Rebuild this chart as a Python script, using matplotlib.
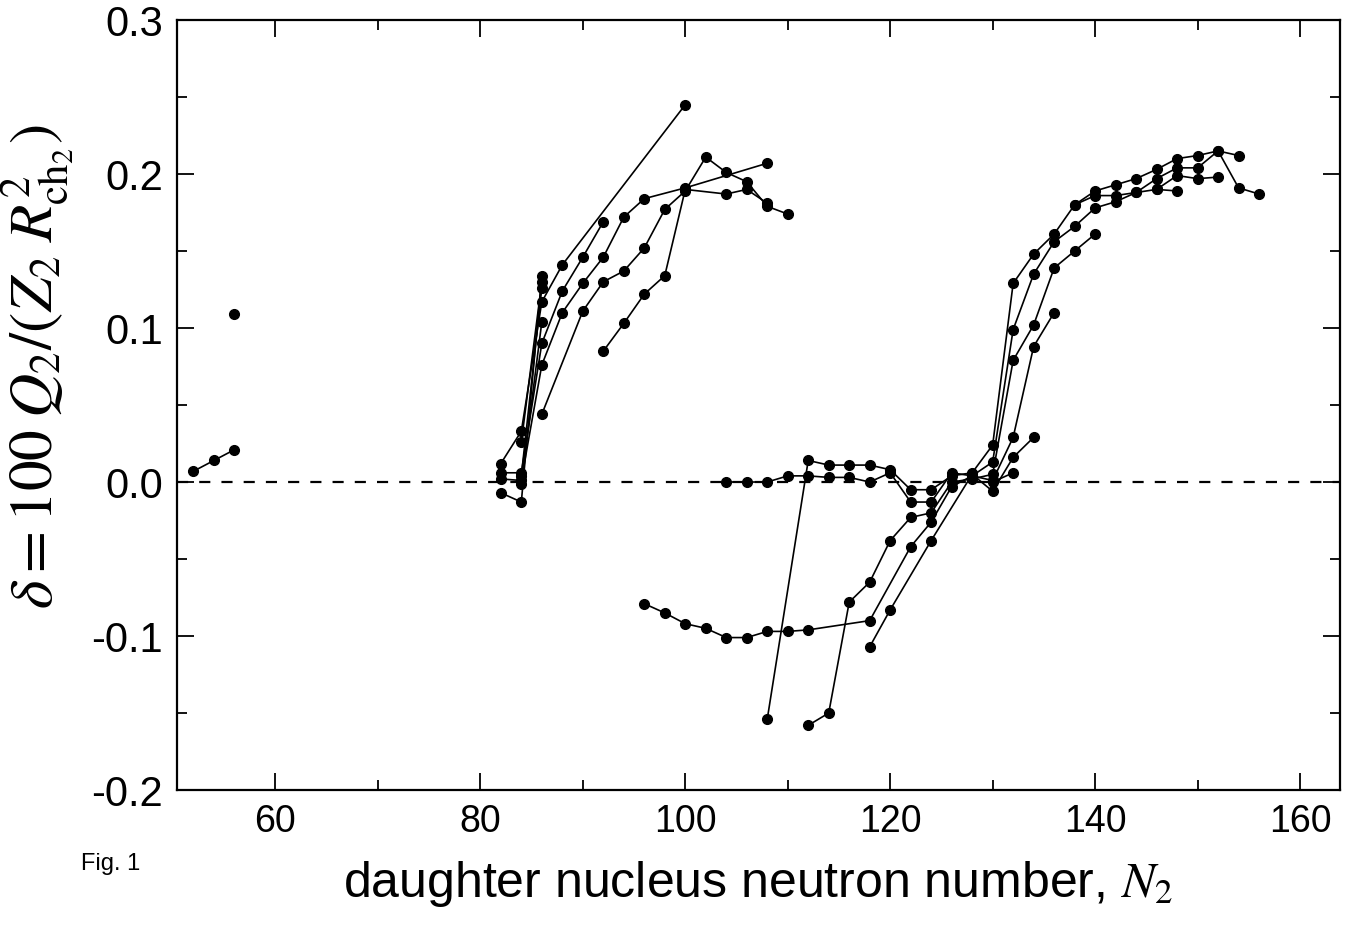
import matplotlib
matplotlib.use("Agg")
import matplotlib.pyplot as plt
from matplotlib.ticker import MultipleLocator

plt.rcParams['font.family'] = ['Liberation Sans', 'DejaVu Sans']
plt.rcParams['mathtext.fontset'] = 'stix'

# ---- data (N2, delta) per chain ----
L1_N = [52, 54, 56]
L1_d = [0.007, 0.014, 0.021]
L2_N = [56]
L2_d = [0.109]

S1_N = [82, 84, 86, 88, 100]
S1_d = [0.012, 0.033, 0.117, 0.141, 0.245]
S2_N = [82, 84, 86, 88, 90, 92]
S2_d = [0.006, 0.006, 0.090, 0.124, 0.146, 0.169]
S3_N = [82, 84, 86, 88, 90, 92, 94, 96, 100, 108]
S3_d = [0.002, 0.001, 0.076, 0.110, 0.129, 0.146, 0.172, 0.184, 0.191, 0.207]
S4_N = [86, 90, 92, 94, 96, 98, 100, 102, 104, 106, 108, 110]
S4_d = [0.044, 0.111, 0.130, 0.137, 0.152, 0.177, 0.189, 0.211, 0.201, 0.195, 0.179, 0.174]
S5_N = [92, 94, 96, 98, 100, 104, 106, 108]
S5_d = [0.085, 0.103, 0.122, 0.134, 0.190, 0.187, 0.190, 0.181]
S6_N = [82, 84, 86]
S6_d = [-0.007, -0.013, 0.134]
S7_N = [84, 86]
S7_d = [0.026, 0.130]
S8_N = [84, 86]
S8_d = [0.004, 0.126]
S9_N = [84, 86]
S9_d = [-0.001, 0.104]

A_N = [108, 112, 114, 116, 118, 120, 122, 124, 126, 128, 130, 132, 134, 136, 138,
       140, 142, 144, 146, 148, 150, 152, 154]
A_d = [-0.154, 0.014, 0.011, 0.011, 0.011, 0.008, -0.005, -0.005, 0.004, 0.006, 0.024,
       0.129, 0.148, 0.161, 0.180, 0.189, 0.193, 0.197, 0.203, 0.210, 0.212, 0.215, 0.212]
B_N = [104, 106, 108, 110, 112, 114, 116, 118, 120, 122, 124, 126, 128, 130, 132, 134,
       136, 138, 140, 142, 144, 146, 148]
B_d = [0.000, 0.000, 0.000, 0.004, 0.004, 0.003, 0.003, 0.000, 0.006, -0.013, -0.013,
       0.006, 0.004, 0.013, 0.099, 0.135, 0.156, 0.166, 0.178, 0.182, 0.188, 0.190, 0.189]
C_N = [112, 114, 116, 118, 120, 122, 124, 126, 128, 130, 132, 134, 136, 138, 140]
C_d = [-0.158, -0.150, -0.078, -0.065, -0.038, -0.023, -0.020, 0.000, 0.002, 0.005,
       0.079, 0.102, 0.139, 0.150, 0.161]
D_N = [96, 98, 100, 102, 104, 106, 108, 110, 112, 118, 122, 124, 126, 128, 130, 132,
       134, 136]
D_d = [-0.079, -0.085, -0.092, -0.095, -0.101, -0.101, -0.097, -0.097, -0.096, -0.090,
       -0.042, -0.026, -0.003, 0.004, 0.001, 0.029, 0.088, 0.110]
E_N = [118, 120, 124, 128, 130, 132, 134]
E_d = [-0.107, -0.083, -0.038, 0.005, -0.006, 0.016, 0.029]
F_N = [130, 132]
F_d = [0.000, 0.006]
G_N = [138, 140, 142, 144, 146, 148, 150, 152, 154, 156]
G_d = [0.180, 0.186, 0.186, 0.188, 0.197, 0.204, 0.204, 0.215, 0.191, 0.187]
H_N = [146, 148, 150, 152]
H_d = [0.190, 0.199, 0.197, 0.198]

chains = [(L1_N, L1_d), (L2_N, L2_d), (S1_N, S1_d), (S2_N, S2_d), (S3_N, S3_d),
          (S4_N, S4_d), (S5_N, S5_d), (S6_N, S6_d), (S7_N, S7_d), (S8_N, S8_d),
          (S9_N, S9_d), (A_N, A_d), (B_N, B_d), (C_N, C_d), (D_N, D_d), (E_N, E_d),
          (F_N, F_d), (G_N, G_d), (H_N, H_d)]

xticks = [60, 80, 100, 120, 140, 160]
yticks = [-0.2, -0.1, 0.0, 0.1, 0.2, 0.3]

fig = plt.figure(figsize=(13.65, 9.44), dpi=100)
ax = fig.add_axes([0.1297, 0.1631, 0.852, 0.8157])

ax.axhline(0.0, color='black', lw=1.6, ls=(0, (5, 5)), zorder=1)
for n, d in chains:
    ax.plot(n, d, '-o', color='black', lw=1.2, ms=7, zorder=3)

ax.set_xlim(50.4, 163.9)
ax.set_ylim(-0.2, 0.3)
ax.set_xticks(xticks)
ax.set_xticklabels([str(t) for t in xticks])
ax.set_yticks(yticks)
ax.set_yticklabels(['%.1f' % t for t in yticks])
ax.xaxis.set_minor_locator(MultipleLocator(10))
ax.yaxis.set_minor_locator(MultipleLocator(0.05))
ax.tick_params(which='both', direction='in', top=True, right=True, width=1.3)
ax.tick_params(which='major', length=12, pad=10)
ax.tick_params(axis='x', which='major', labelsize=27)
ax.tick_params(axis='y', which='major', labelsize=30)
ax.tick_params(which='minor', length=7)
for s in ax.spines.values():
    s.set_linewidth(1.6)

ax.set_xlabel(r'daughter nucleus neutron number, $N_2$', fontsize=36, labelpad=14)
ax.set_ylabel(r'$\delta = 100\;Q_2/(Z_2\;R^2_{\mathrm{ch}_2})$', fontsize=44)
ax.yaxis.set_label_coords(-0.086, 0.55)
fig.text(0.059, 0.078, 'Fig. 1', fontsize=17)

fig.savefig('out.png', dpi=100)
